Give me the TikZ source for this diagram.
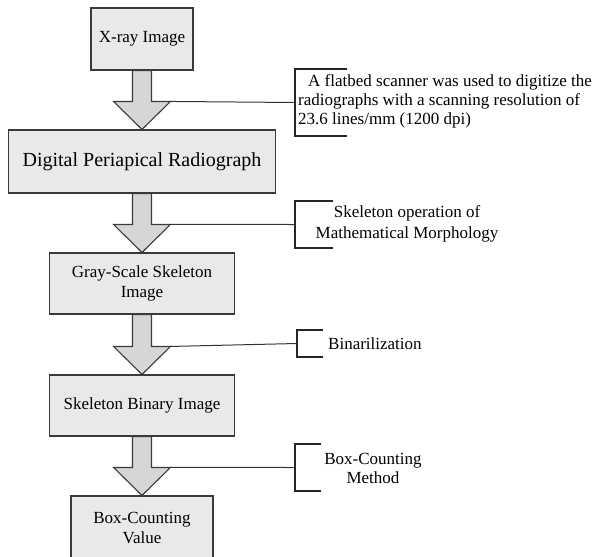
\documentclass[tikz,border=0pt]{standalone}
\usepackage{fontspec}
\setmainfont{Liberation Serif}
\usetikzlibrary{calc, positioning}
\definecolor{boxfill}{HTML}{E9E9E9}
\definecolor{arrowfill}{HTML}{D6D6D6}
\definecolor{edgegray}{HTML}{3A3A3A}

\begin{document}
\begin{tikzpicture}[x=1pt, y=1pt,
  every node/.style={font=\fontsize{17}{20}\selectfont, inner sep=0pt},
  stage/.style={rectangle, draw=edgegray, fill=boxfill, line width=1.1pt, align=center},
  flowarrow/.style={draw=edgegray, fill=arrowfill, line width=1.1pt, line join=miter},
  bracket/.style={draw=black!85, line width=1.3pt},
  lead/.style={draw=black!80, line width=1pt},
]
\useasboundingbox (0,0) rectangle (598,-557);

% processing stages
\node[stage, minimum width=102pt, minimum height=62pt] (xray) at (142,-39) {X-ray Image};
\node[stage, minimum width=267pt, minimum height=63pt, font=\fontsize{20}{24}\selectfont] (dpr) at (142,-161.5) {Digital Periapical Radiograph};
\node[stage, minimum width=185pt, minimum height=61pt] (gray) at (142,-283.5) {Gray-Scale Skeleton\\Image};
\node[stage, minimum width=185pt, minimum height=61pt] (bin) at (142,-405.5) {Skeleton Binary Image};
\node[stage, minimum width=142pt, minimum height=64pt] (bcv) at (142,-528) {Box-Counting\\Value};

% block arrows between stages
\foreach \a/\b in {xray/dpr, gray/bin, dpr/gray, bin/bcv} {
  \draw[flowarrow] ($(\a.south)+(-9.5,0)$) -- ($(\b.north)+(-9.5,28)$) -- ($(\b.north)+(-28.5,28)$)
    -- (\b.north) -- ($(\b.north)+(28.5,28)$) -- ($(\b.north)+(9.5,28)$) -- ($(\a.south)+(9.5,0)$) -- cycle;
  \coordinate (hr\b) at ($(\b.north)+(28.5,28)$);
}

% side notes
\coordinate (b1) at (295,-102.5);
\coordinate (b2) at (295,-224.5);
\coordinate (b3) at (297,-343.5);
\coordinate (b4) at (295,-467.5);

\foreach \c/\h/\t in {b1/33.5/52, b2/23.5/38, b3/13.5/26, b4/23.5/26} {
  \draw[bracket] ($(\c)+(\t,\h)$) -- ($(\c)+(0,\h)$) -- ($(\c)+(0,-\h)$) -- ($(\c)+(\t,-\h)$);
}

\draw[lead] (hrdpr) -- (b1);
\draw[lead] (hrgray) -- (b2);
\draw[lead] (hrbin) -- (b3);
\draw[lead] (hrbcv) -- (b4);

\node[anchor=west, align=left, font=\fontsize{17}{19}\selectfont] (note1) at (298,-101.5)
  {\hspace{10pt}A flatbed scanner was used to digitize the\\radiographs with a scanning resolution of\\23.6 lines/mm (1200 dpi)};
\node[align=center, font=\fontsize{17}{21}\selectfont] (note2) at (407,-223.5) {Skeleton operation of\\Mathematical Morphology};
\node[anchor=west] (note3) at (328,-344) {Binarilization};
\node[align=center, font=\fontsize{17}{19}\selectfont] (note4) at (373,-468.5) {Box-Counting\\Method};

\end{tikzpicture}
\end{document}
